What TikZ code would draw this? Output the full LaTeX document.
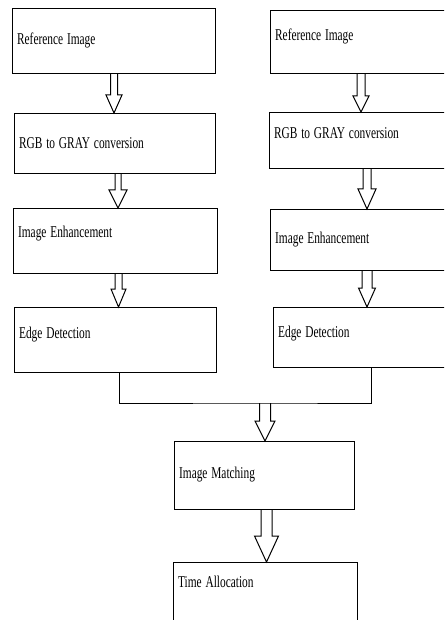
\documentclass[tikz,border=0pt]{standalone}
\usepackage{fontspec}
\setmainfont{Liberation Serif}
\usetikzlibrary{calc}

\tikzset{
  stagebox/.style={draw, line width=1.2pt, anchor=north west, inner xsep=4.5pt,
    inner ysep=0pt, align=left, font=\fontsize{16.5}{18}\selectfont},
  flowline/.style={line width=1pt}
}

% box: name, x1, y1, x2, y2, baseline below top, text
\newcommand{\stage}[7]{%
  \pgfmathsetmacro\stagew{#4-#2}%
  \pgfmathsetmacro\stageh{#5-#3}%
  \pgfmathsetmacro\stagetw{#4-#2-9}%
  \pgfmathsetmacro\staged{#5-#3-#6}%
  \node[stagebox, minimum width=\stagew pt, minimum height=\stageh pt,
    text width=\stagetw pt, text height=#6pt, text depth=\staged pt] (#1) at (#2,#3)
    {\scalebox{0.69}[1]{#7}};
}

% hollow arrow: x, shaft half, head half, head length, from, to
\newcommand{\flowarrow}[6]{%
  \draw[flowline] let \p1=(#5), \p2=(#6) in
    ({(#1-#2)*1pt},\y1) -- ({(#1-#2)*1pt},{\y2+#4pt}) -- ({(#1-#3)*1pt},{\y2+#4pt})
    -- ({#1*1pt},\y2) -- ({(#1+#3)*1pt},{\y2+#4pt}) -- ({(#1+#2)*1pt},{\y2+#4pt})
    -- ({(#1+#2)*1pt},\y1);
}

\begin{document}
\begin{tikzpicture}[x=1pt, y=-1pt]
    \useasboundingbox (0,0) rectangle (444,620);
    \clip (0,0) rectangle (444,620);

    % Left column
    \stage{refL}{12}{8}{215}{73}{36}{Reference Image}
    \stage{grayL}{14}{113}{215}{173}{35}{RGB to GRAY conversion}
    \stage{enhL}{13}{208}{217}{273}{29}{Image Enhancement}
    \stage{edgeL}{14}{307}{216}{372}{31}{Edge Detection}

    % Right column (runs off the page)
    \stage{refR}{270}{10}{469}{73}{30}{Reference Image}
    \stage{grayR}{269}{112}{469}{168}{26}{RGB to GRAY conversion}
    \stage{enhR}{270}{209}{469}{270}{34}{Image Enhancement}
    \stage{edgeR}{273}{307}{469}{367}{30}{Edge Detection}

    % Common steps
    \stage{match}{174}{441}{354}{509}{37}{Image Matching}
    \stage{time}{173}{562}{357}{650}{25}{Time Allocation}

    % Arrows of the left column
    \flowarrow{114}{3.5}{8}{18}{refL.south}{grayL.north}
    \flowarrow{118}{3}{9}{18}{grayL.south}{enhL.north}
    \flowarrow{118.5}{3.5}{7.5}{18}{enhL.south}{edgeL.north}

    % Arrows of the right column
    \flowarrow{361}{4}{8}{16}{refR.south}{grayR.north}
    \flowarrow{367}{4}{9}{20}{grayR.south}{enhR.north}
    \flowarrow{367}{5}{8.5}{19}{enhR.south}{edgeR.north}

    % Joining line
    \coordinate (join) at (265,403);
    \draw[flowline] ($(edgeL.south)+(4,0)$) |- (join) -| (edgeR.south);

    \flowarrow{265}{5.5}{10}{20}{join}{match.north}
    \flowarrow{266.5}{5.5}{12}{26}{match.south}{time.north}
\end{tikzpicture}
\end{document}
